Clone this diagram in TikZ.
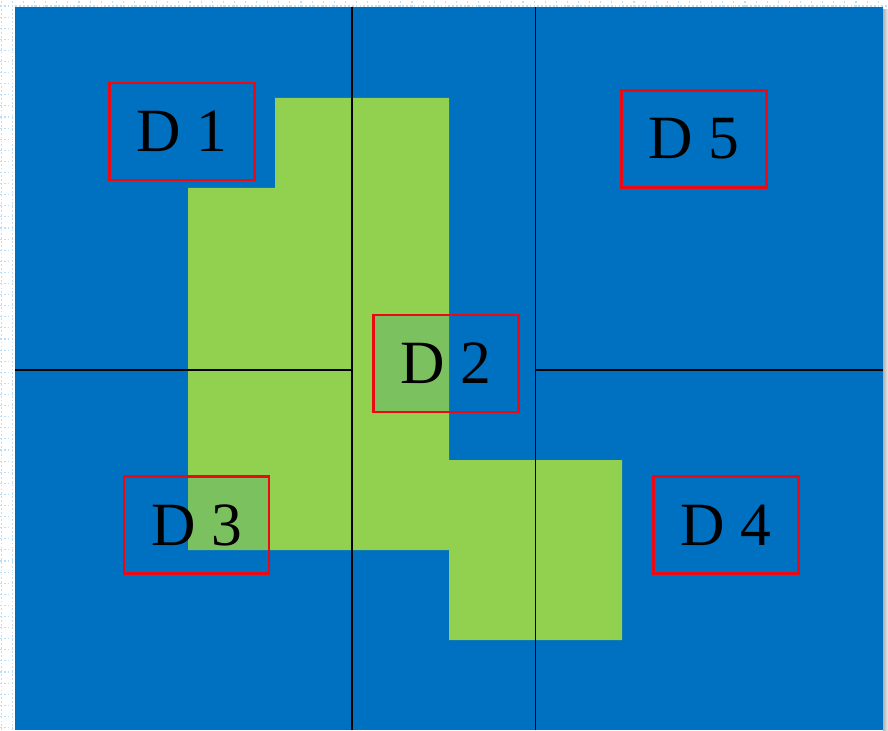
\documentclass[tikz,border=0pt]{standalone}
\usepackage{fontspec}
\setmainfont{Liberation Serif}
\usepackage{xcolor}

\definecolor{mapblue}{RGB}{0,112,192}
\definecolor{mapgreen}{RGB}{146,208,80}
\definecolor{gridblue}{RGB}{190,222,245}
\definecolor{boxred}{RGB}{235,10,20}

\tikzset{
  zonebox/.style={draw=boxred, line width=1.3pt,
    preaction={fill=mapblue, fill opacity=0.15},
    minimum width=2.9cm, minimum height=1.94cm, inner sep=0pt,
    font=\fontsize{35}{42}\selectfont},
  cutline/.style={black, line width=0.75pt}
}

\begin{document}
\begin{tikzpicture}
  \useasboundingbox (0,0) rectangle (17.76,14.6);
  % Page grid behind the panel
  \fill[white] (0,0) rectangle (17.76,14.6);
  \foreach \i in {0,...,79}
    \draw[gridblue, line width=0.6pt, dash pattern=on 1pt off 1.2pt] (0.026+0.222*\i,0) -- (0.026+0.222*\i,14.6);
  \foreach \j in {0,...,65}
    \draw[gridblue, line width=0.6pt, dash pattern=on 1pt off 1.2pt] (0,14.48-0.222*\j) -- (17.76,14.48-0.222*\j);
  % Blue panel with its right shadow
  \shade[left color=gray!60, right color=gray!15] (17.66,0) rectangle (17.76,14.4);
  \fill[mapblue] (0.3,0) rectangle (17.66,14.46);
  % Green region
  \fill[mapgreen] (5.5,12.64) -- (8.98,12.64) -- (8.98,5.4) -- (12.44,5.4) -- (12.44,1.8)
    -- (8.98,1.8) -- (8.98,3.6) -- (3.76,3.6) -- (3.76,10.84) -- (5.5,10.84) -- cycle;
  % Cut lines
  \draw[cutline] (7.04,0) -- (7.04,14.46);
  \draw[cutline] (10.71,0) -- (10.71,14.46);
  \draw[cutline] (0.3,7.2) -- (7.04,7.2);
  \draw[cutline] (10.71,7.2) -- (17.66,7.2);
  % Zone labels
  \node[zonebox] (d1) at (3.64,11.97) {D 1};
  \node[zonebox] (d2) at (8.92,7.33) {D 2};
  \node[zonebox] (d3) at (3.93,4.1) {D 3};
  \node[zonebox] (d4) at (14.52,4.1) {D 4};
  \node[zonebox] (d5) at (13.88,11.82) {D 5};
\end{tikzpicture}
\end{document}
